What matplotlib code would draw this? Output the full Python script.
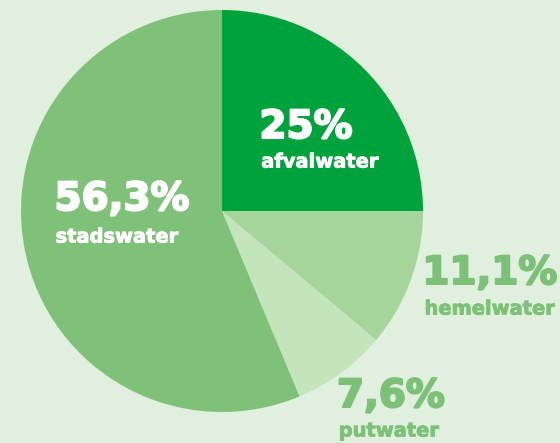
import matplotlib
matplotlib.use("Agg")
import matplotlib.pyplot as plt
import matplotlib.patheffects as pe

labels = ["afvalwater", "hemelwater", "putwater", "stadswater"]
values = [25.0, 11.1, 7.6, 56.3]
pct_labels = ["25%", "11,1%", "7,6%", "56,3%"]
colors = ["#00a33b", "#a6d59c", "#c4e4bb", "#80c17a"]
bg = "#e1efdf"

fig = plt.figure(figsize=(5.6, 4.43), dpi=100, facecolor=bg)
ax = fig.add_axes([0, 0, 1, 1])
ax.set_facecolor(bg)
H = 443
cx, cy, r = 222, H - 211, 201
ax.pie(values, colors=colors, startangle=90, counterclock=False,
       center=(cx, cy), radius=r, wedgeprops=dict(linewidth=0))
ax.set_xlim(0, 560)
ax.set_ylim(0, H)
ax.set_aspect("equal")
ax.axis("off")

fam = ["DejaVu Sans"]
# positions (pixel coords from top) for labels
pos = {
    "afvalwater": ((306, 127), (320, 162), "white"),
    "stadswater": ((122, 199), (117, 237), "white"),
    "hemelwater": ((490, 273), (490, 309), "#7cc177"),
    "putwater": ((391, 396), (389, 431), "#7cc177"),
}
for lab, pct in zip(labels, pct_labels):
    (px, py), (lx, ly), col = pos[lab]
    ax.text(px, H - py, pct, ha="center", va="center", fontsize=28,
            fontweight="bold", color=col, family=fam,
            path_effects=[pe.withStroke(linewidth=1.5, foreground=col)])
    ax.text(lx, H - ly, lab, ha="center", va="center", fontsize=14,
            fontweight="bold", color=col, family=fam,
            path_effects=[pe.withStroke(linewidth=0.6, foreground=col)])

fig.savefig("out.png", dpi=100, facecolor=bg)
